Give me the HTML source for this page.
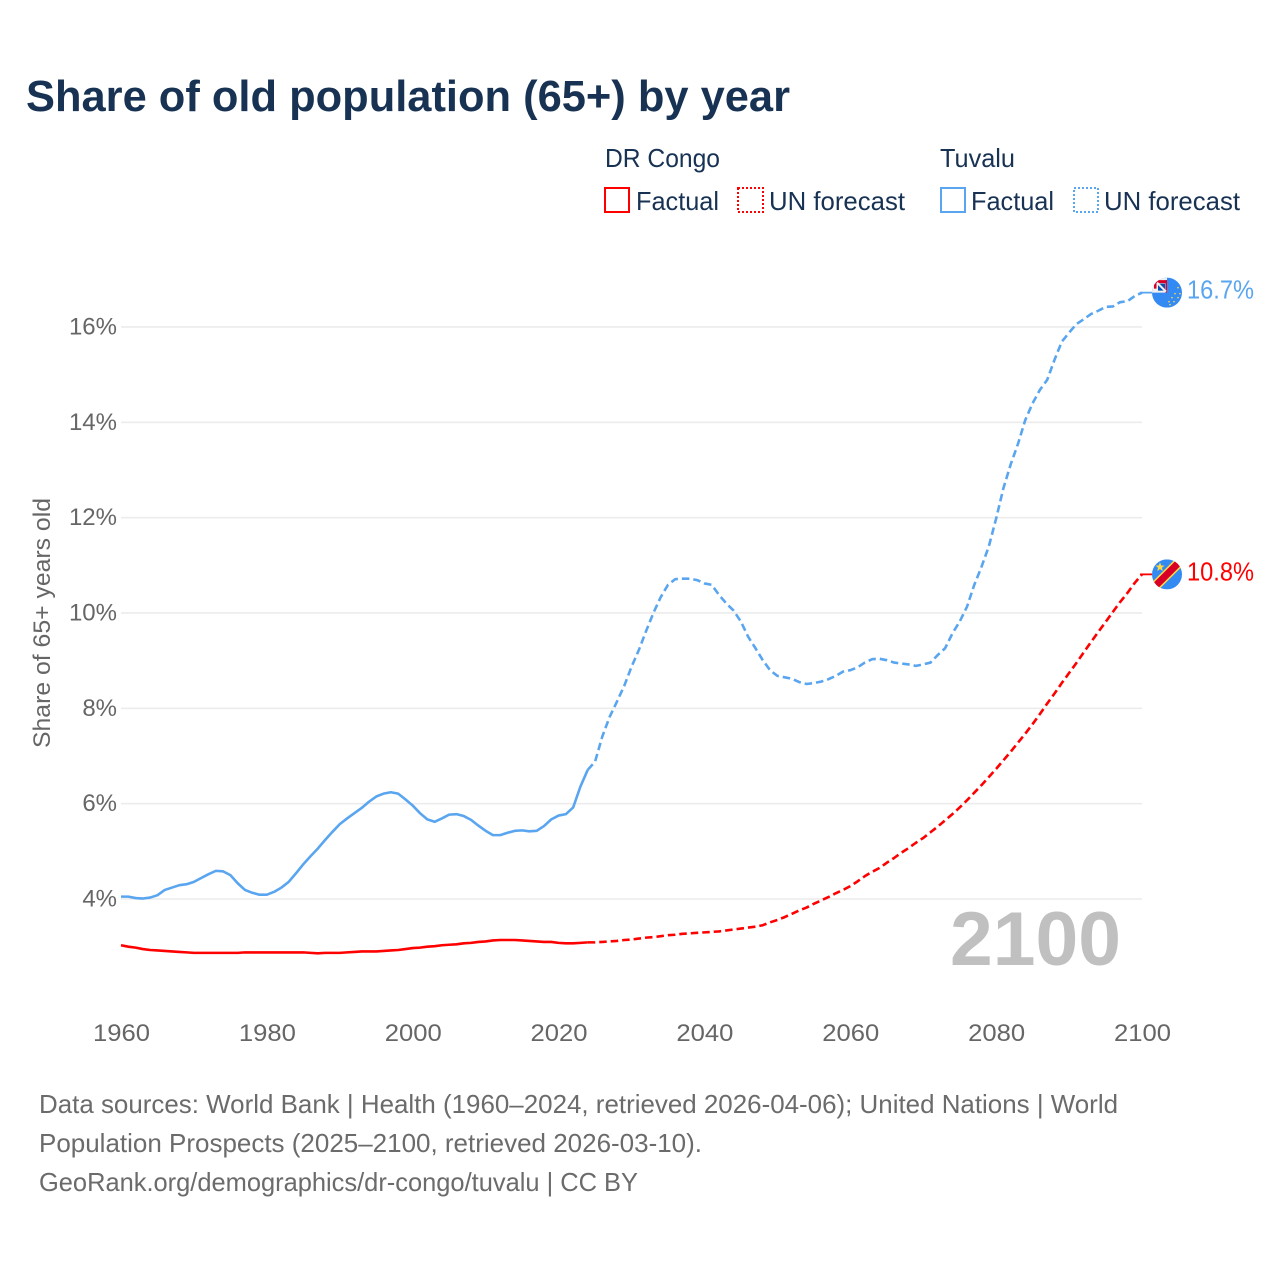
<!DOCTYPE html>
<html lang="en">
<head>
<meta charset="utf-8">
<title>Share of old population (65+) by year</title>
<style>
html,body{margin:0;padding:0;background:#fff;}
svg{display:block;font-family:"Liberation Sans",sans-serif;}
</style>
</head>
<body>
<svg id="chart" xmlns="http://www.w3.org/2000/svg" width="1280" height="1280" viewBox="0 0 1280 1280">
  <rect x="0" y="0" width="1280" height="1280" fill="#ffffff"/>
  <text x="26" y="111" font-size="44" font-weight="700" fill="#173253" textLength="764" lengthAdjust="spacingAndGlyphs">Share of old population (65+) by year</text>

  <g font-size="26" fill="#173253">
    <text x="605" y="167" textLength="115" lengthAdjust="spacingAndGlyphs">DR Congo</text>
    <text x="940" y="167" textLength="75" lengthAdjust="spacingAndGlyphs">Tuvalu</text>
    <rect x="605" y="188" width="24" height="24" fill="none" stroke="#ff0000" stroke-width="2"/>
    <text x="636" y="210" textLength="83" lengthAdjust="spacingAndGlyphs">Factual</text>
    <rect x="738" y="188" width="25" height="24" fill="none" stroke="#ff0000" stroke-width="2" stroke-dasharray="2,2"/>
    <text x="769" y="210" textLength="136" lengthAdjust="spacingAndGlyphs">UN forecast</text>
    <rect x="941" y="188" width="24" height="24" fill="none" stroke="#5aa5ef" stroke-width="2"/>
    <text x="971" y="210" textLength="83" lengthAdjust="spacingAndGlyphs">Factual</text>
    <rect x="1074" y="188" width="24" height="24" fill="none" stroke="#5aa5ef" stroke-width="2" stroke-dasharray="2,2"/>
    <text x="1104" y="210" textLength="136" lengthAdjust="spacingAndGlyphs">UN forecast</text>
  </g>

  <g id="grid"></g>
  <g id="yticks" font-size="24" fill="#666666" text-anchor="end"></g>
  <g id="xticks" font-size="24" fill="#666666"></g>
  <text transform="translate(50,623) rotate(-90)" font-size="24" fill="#666666" text-anchor="middle" textLength="250" lengthAdjust="spacingAndGlyphs">Share of 65+ years old</text>
  <text x="950" y="965" font-size="76" font-weight="700" fill="#c0c0c0" textLength="171" lengthAdjust="spacingAndGlyphs">2100</text>

  <g id="series"></g>

  <defs>
    <clipPath id="flag-clip"><circle cx="0" cy="0" r="15"/></clipPath>
  </defs>

  <g id="flag-tuvalu">
    <g clip-path="url(#flag-clip)">
      <rect x="-15" y="-15" width="30" height="30" fill="#338af3"/>
      <rect x="-15" y="-15" width="15" height="15" fill="#f0f0f0"/>
      <rect x="-13" y="-12.5" width="13" height="3" fill="#d80027"/>
      <rect x="-13" y="-12.5" width="2.5" height="8.5" fill="#d80027"/>
      <rect x="-1.6" y="-12.5" width="1.6" height="12.5" fill="#d80027"/>
      <polygon points="-9,-9 -2,-9 -2,-2" fill="#0052b4"/>
      <polygon points="-9,-9 -9,-2 -2,-2" fill="#0052b4"/>
      <path d="M-10 -10L-1 -1" stroke="#f0f0f0" stroke-width="2" fill="none"/>
      <g fill="#ffda44">
        <circle cx="11" cy="-5" r="0.8"/><circle cx="13" cy="1" r="0.8"/><circle cx="8" cy="1" r="0.8"/>
        <circle cx="11" cy="5" r="0.8"/><circle cx="5" cy="5" r="0.8"/><circle cx="7" cy="9" r="0.8"/>
        <circle cx="2" cy="9" r="0.8"/><circle cx="3" cy="12" r="0.8"/>
      </g>
    </g>
  </g>
  <g id="flag-drc">
    <g clip-path="url(#flag-clip)">
      <rect x="-15" y="-15" width="30" height="30" fill="#338af3"/>
      <path d="M-15 15L15 -15" stroke="#ffda44" stroke-width="10" fill="none"/>
      <path d="M-15 15L15 -15" stroke="#d80027" stroke-width="7" fill="none"/>
      <polygon points="-7,-12 -5.8,-8.9 -2.5,-8.7 -5.1,-6.6 -4.2,-3.4 -7,-5.2 -9.8,-3.4 -8.9,-6.6 -11.5,-8.7 -8.2,-8.9" fill="#ffda44"/>
    </g>
  </g>

  <text id="label-tuvalu" font-size="26" fill="#5aa5ef" textLength="67" lengthAdjust="spacingAndGlyphs"></text>
  <text id="label-drc" font-size="26" fill="#ff0000" textLength="67" lengthAdjust="spacingAndGlyphs"></text>

  <g font-size="26" fill="#6b6b6b">
    <text x="39" y="1113" textLength="1079" lengthAdjust="spacingAndGlyphs">Data sources: World Bank | Health (1960–2024, retrieved 2026-04-06); United Nations | World</text>
    <text x="39" y="1152" textLength="663" lengthAdjust="spacingAndGlyphs">Population Prospects (2025–2100, retrieved 2026-03-10).</text>
    <text x="39" y="1191" textLength="599" lengthAdjust="spacingAndGlyphs">GeoRank.org/demographics/dr-congo/tuvalu | CC BY</text>
  </g>
</svg>

<script>
const yTickValues = [4, 6, 8, 10, 12, 14, 16];
const xTickYears = [1960, 1980, 2000, 2020, 2040, 2060, 2080, 2100];
const factualStartYear = 1960;
const forecastStartYear = 2024;

const tuvaluFactual = [
  4.05,4.05,4.02,4.01,4.03,4.08,4.19,4.24,4.29,4.31,
  4.36,4.44,4.52,4.59,4.58,4.50,4.33,4.19,4.13,4.09,
  4.09,4.15,4.24,4.36,4.54,4.73,4.90,5.06,5.24,5.41,
  5.57,5.69,5.80,5.91,6.04,6.15,6.21,6.24,6.21,6.09,
  5.96,5.80,5.67,5.62,5.69,5.77,5.78,5.74,5.66,5.54,
  5.43,5.34,5.34,5.39,5.43,5.44,5.42,5.43,5.53,5.67,
  5.75,5.78,5.92,6.36,6.71
];
const tuvaluForecast = [
  6.71,6.88,7.41,7.82,8.14,8.47,8.87,9.22,9.62,10.00,
  10.33,10.59,10.71,10.72,10.72,10.69,10.62,10.59,10.38,10.20,
  10.05,9.82,9.50,9.26,9.01,8.80,8.68,8.65,8.62,8.55,
  8.51,8.53,8.56,8.61,8.68,8.77,8.80,8.86,8.96,9.03,
  9.04,9.01,8.96,8.94,8.92,8.89,8.92,8.96,9.12,9.26,
  9.57,9.82,10.13,10.59,10.97,11.40,11.98,12.62,13.12,13.55,
  14.05,14.40,14.68,14.89,15.31,15.69,15.88,16.06,16.16,16.27,
  16.34,16.42,16.43,16.52,16.54,16.65,16.72
];
const drcFactual = [
  3.03,3.00,2.98,2.95,2.93,2.92,2.91,2.90,2.89,2.88,
  2.87,2.87,2.87,2.87,2.87,2.87,2.87,2.88,2.88,2.88,
  2.88,2.88,2.88,2.88,2.88,2.88,2.87,2.86,2.87,2.87,
  2.87,2.88,2.89,2.90,2.90,2.90,2.91,2.92,2.93,2.95,
  2.97,2.98,3.00,3.01,3.03,3.04,3.05,3.07,3.08,3.10,
  3.11,3.13,3.14,3.14,3.14,3.13,3.12,3.11,3.10,3.10,
  3.08,3.07,3.07,3.08,3.09
];
const drcForecast = [
  3.09,3.09,3.10,3.11,3.12,3.14,3.15,3.17,3.19,3.20,
  3.22,3.24,3.25,3.27,3.28,3.29,3.30,3.31,3.32,3.34,
  3.36,3.38,3.40,3.42,3.45,3.51,3.56,3.62,3.69,3.76,
  3.82,3.90,3.97,4.04,4.12,4.19,4.27,4.37,4.48,4.57,
  4.65,4.76,4.86,4.97,5.07,5.18,5.28,5.40,5.52,5.65,
  5.78,5.92,6.07,6.23,6.39,6.56,6.73,6.91,7.09,7.28,
  7.47,7.67,7.88,8.10,8.31,8.53,8.74,8.95,9.17,9.39,
  9.60,9.81,10.02,10.23,10.42,10.63,10.81
];

const NS = 'http://www.w3.org/2000/svg';
function xScale(year) { return 121 + (year - 1960) * (1142 - 121) / 140; }
function yScale(value) { return 899 - (value - 4) * 47.67; }
function linePath(values, startYear) {
  return values.map(function (v, i) {
    return (i ? 'L' : 'M') + xScale(startYear + i).toFixed(2) + ' ' + yScale(v).toFixed(2);
  }).join('');
}
function addSeries(name, values, startYear, color, dash) {
  const p = document.createElementNS(NS, 'path');
  
  
  p.setAttribute('d', linePath(values, startYear));
  p.setAttribute('fill', 'none');
  p.setAttribute('stroke', color);
  p.setAttribute('stroke-width', '2.6');
  p.setAttribute('stroke-linejoin', 'round');
  if (dash) p.setAttribute('stroke-dasharray', dash);
  document.getElementById('series').appendChild(p);
}

yTickValues.forEach(function (v) {
  const line = document.createElementNS(NS, 'line');
  
  
  line.setAttribute('x1', xScale(1960));
  line.setAttribute('x2', xScale(2100));
  line.setAttribute('y1', yScale(v));
  line.setAttribute('y2', yScale(v));
  line.setAttribute('stroke', '#ececec');
  line.setAttribute('stroke-width', '1.6');
  document.getElementById('grid').appendChild(line);

  const t = document.createElementNS(NS, 'text');
  
  
  t.setAttribute('x', 117);
  t.setAttribute('y', yScale(v) + 7.5);
  t.textContent = v + '%';
  document.getElementById('yticks').appendChild(t);
});

xTickYears.forEach(function (yr) {
  const t = document.createElementNS(NS, 'text');
  
  
  t.setAttribute('x', xScale(yr) - 28);
  t.setAttribute('y', 1041);
  t.setAttribute('textLength', '57');
  t.setAttribute('lengthAdjust', 'spacingAndGlyphs');
  t.textContent = yr;
  document.getElementById('xticks').appendChild(t);
});

addSeries('dr-congo-factual-line', drcFactual, factualStartYear, '#ff0000', null);
addSeries('dr-congo-forecast-line', drcForecast, forecastStartYear, '#ff0000', '7.5,4');
addSeries('tuvalu-factual-line', tuvaluFactual, factualStartYear, '#5aa5ef', null);
addSeries('tuvalu-forecast-line', tuvaluForecast, forecastStartYear, '#5aa5ef', '7.5,4');

function placeEnd(flagId, labelId, values, color, connectorName) {
  const last = values[values.length - 1];
  const px = xScale(2100);
  const py = yScale(last);
  const c = document.createElementNS(NS, 'line');
  
  
  c.setAttribute('x1', px - 2);
  c.setAttribute('x2', px + 10);
  c.setAttribute('y1', py);
  c.setAttribute('y2', py);
  c.setAttribute('stroke', color);
  c.setAttribute('stroke-width', '1.8');
  document.getElementById('series').appendChild(c);
  document.getElementById(flagId).setAttribute('transform', 'translate(' + (px + 25) + ',' + py + ')');
  const label = document.getElementById(labelId);
  label.setAttribute('x', px + 45);
  label.setAttribute('y', py + 6);
  label.textContent = last.toFixed(1) + '%';
}
placeEnd('flag-tuvalu', 'label-tuvalu', tuvaluForecast, '#5aa5ef', 'tuvalu-end-connector');
placeEnd('flag-drc', 'label-drc', drcForecast, '#ff0000', 'dr-congo-end-connector');
</script>
</body>
</html>
